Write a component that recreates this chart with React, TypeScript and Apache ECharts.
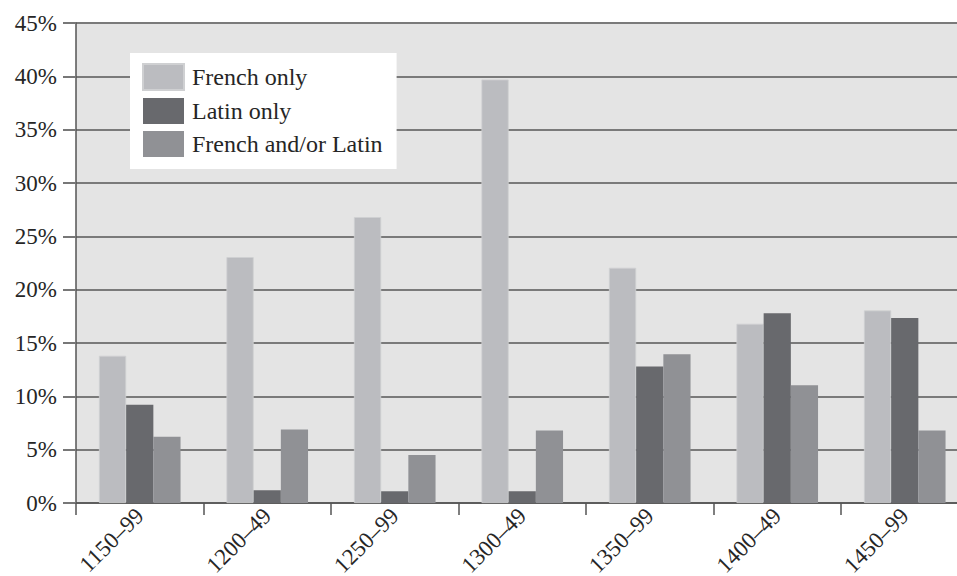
import React, { useEffect, useRef } from "react";
import * as echarts from "echarts";

const categories = ["1150–99", "1200–49", "1250–99", "1300–49", "1350–99", "1400–49", "1450–99"];
const frenchOnly = [13.8, 23.05, 26.8, 39.7, 22.05, 16.8, 18.05];
const latinOnly = [9.2, 1.2, 1.1, 1.1, 12.8, 17.8, 17.35];
const frenchOrLatin = [6.2, 6.9, 4.5, 6.8, 13.95, 11.05, 6.8];
const seriesNames = ["French only", "Latin only", "French and/or Latin"];
const seriesColors = ["#bbbcc0", "#68696d", "#909195"];

const FONT = "'Liberation Serif', 'DejaVu Serif', serif";
const TEXT = "#262626";

export default function App() {
  const ref = useRef<HTMLDivElement>(null);
  useEffect(() => {
    if (!ref.current) return;
    const chart = echarts.init(ref.current, undefined, { renderer: "svg" });
    const data = [frenchOnly, latinOnly, frenchOrLatin];
    chart.setOption({
      animation: false,
      backgroundColor: "#ffffff",
      grid: {
        left: 76,
        top: 23,
        width: 892.5,
        height: 480,
        show: true,
        backgroundColor: "#e4e4e4",
        borderWidth: 0,
        containLabel: false,
        outerBoundsMode: "none",
      },
      legend: {
        orient: "vertical",
        left: 130,
        top: 53,
        backgroundColor: "#ffffff",
        padding: [10, 14, 12, 12],
        itemWidth: 41,
        itemHeight: 26,
        itemGap: 7,
        icon: "rect",
        data: seriesNames,
        textStyle: { fontFamily: FONT, fontSize: 24, color: TEXT, padding: [0, 0, 0, 3] },
      },
      xAxis: {
        type: "category",
        data: categories,
        axisLine: { show: true, lineStyle: { color: "#555555", width: 1.5 } },
        axisTick: { show: true, length: 12, lineStyle: { color: "#555555", width: 1.5 } },
        axisLabel: {
          interval: 0,
          rotate: 45,
          margin: 9,
          fontFamily: FONT,
          fontSize: 23,
          color: TEXT,
        },
        splitLine: { show: false },
      },
      yAxis: {
        type: "value",
        min: 0,
        max: 45,
        interval: 5,
        axisLine: { show: true, lineStyle: { color: "#555555", width: 1.5 } },
        axisTick: { show: true, length: 13, lineStyle: { color: "#777777", width: 2 } },
        axisLabel: {
          formatter: "{value}%",
          margin: 19,
          fontFamily: FONT,
          fontSize: 23,
          color: TEXT,
        },
        splitLine: { show: true, lineStyle: { color: "#7a7a7a", width: 2 } },
      },
      series: seriesNames.map((name, i) => ({
        name,
        type: "bar",
        data: data[i],
        barWidth: 27.2,
        barGap: "0%",
        itemStyle: { color: seriesColors[i], borderColor: "#cfd0d2", borderWidth: i === 0 ? 0.8 : 0 },
      })),
    });
    return () => chart.dispose();
  }, []);
  return (
    <div style={{ position: "fixed", left: 0, top: 0, width: 957, height: 576, overflow: "hidden" }}>
      <div ref={ref} style={{ width: 980, height: 576 }} />
    </div>
  );
}
